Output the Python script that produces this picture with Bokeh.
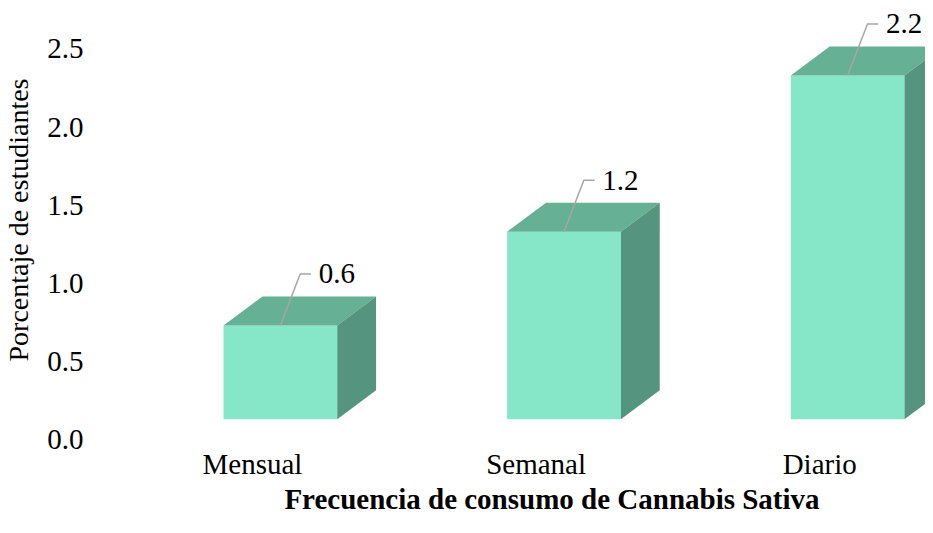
from bokeh.plotting import figure
from bokeh.models import Range1d, ColumnDataSource, FixedTicker, CustomJSTickFormatter
from bokeh.core.properties import value
from bokeh.embed import file_html
from bokeh.resources import INLINE

categories = ["Mensual", "Semanal", "Diario"]
values = [0.6, 1.2, 2.2]
y_ticks = [0.0, 0.5, 1.0, 1.5, 2.0, 2.5]

# style constants (3D look)
BASE = 0.13
LEFT_OFF = -0.102
RIGHT_OFF = 0.299
DX = 0.137
DY = 0.185
FONT = "Liberation Serif"

xs = list(range(len(categories)))

p = figure(width=925, height=517, output_backend="svg", toolbar_location=None,
           x_range=Range1d(-0.2606, 2.373), y_range=Range1d(0, 2.81),
           min_border_top=0, min_border_right=0, min_border_left=10, min_border_bottom=0)
p.outline_line_color = None
p.xgrid.grid_line_color = None
p.ygrid.grid_line_color = None

front = dict(left=[x + LEFT_OFF for x in xs], right=[x + RIGHT_OFF for x in xs],
             bottom=[BASE] * len(xs), top=[BASE + v for v in values])
p.quad(source=ColumnDataSource(front), fill_color="#86E6C8", line_color=None)

top_xs, top_ys, side_xs, side_ys = [], [], [], []
for x, v in zip(xs, values):
    L, R, t, b = x + LEFT_OFF, x + RIGHT_OFF, BASE + v, BASE
    top_xs.append([L, R, R + DX, L + DX])
    top_ys.append([t, t, t + DY, t + DY])
    side_xs.append([R, R + DX, R + DX, R])
    side_ys.append([b, b + DY, t + DY, t])
p.patches(top_xs, top_ys, fill_color="#66B096", line_color=None)
p.patches(side_xs, side_ys, fill_color="#55947E", line_color=None)

# data labels with leader lines
lx, ly, tx, ty, tt = [], [], [], [], []
for x, v in zip(xs, values):
    c = x + (LEFT_OFF + RIGHT_OFF) / 2
    t = BASE + v
    lx.append([c, c + 0.07, c + 0.108])
    ly.append([t, t + 0.33, t + 0.33])
    tx.append(c + 0.135)
    ty.append(t + 0.33)
    tt.append(f"{v:.1f}")
p.multi_line(lx, ly, line_color="#A6A6A6", line_width=1.5)
p.text(x=tx, y=ty, text=tt, text_font=value(FONT), text_font_size="29px",
       text_baseline="middle", text_align="left", text_color="black")

# axes
p.xaxis.ticker = FixedTicker(ticks=xs)
p.xaxis.major_label_overrides = {i: c for i, c in enumerate(categories)}
p.yaxis.ticker = FixedTicker(ticks=y_ticks)
p.yaxis.formatter = CustomJSTickFormatter(code="return tick.toFixed(1);")

for ax in (p.xaxis[0], p.yaxis[0]):
    ax.axis_line_color = None
    ax.major_tick_line_color = None
    ax.minor_tick_line_color = None
    ax.major_label_text_font = FONT
    ax.major_label_text_font_size = "29px"
    ax.major_label_text_color = "black"
    ax.axis_label_text_color = "black"
    ax.axis_label_text_font = FONT

p.yaxis.axis_label = "Porcentaje de estudiantes"
p.yaxis.axis_label_text_font_size = "28px"
p.yaxis.axis_label_text_font_style = "normal"
p.yaxis.major_label_standoff = 89
p.yaxis.axis_label_standoff = 10

p.xaxis.axis_label = "Frecuencia de consumo de Cannabis Sativa"
p.xaxis.axis_label_text_font_size = "29px"
p.xaxis.axis_label_text_font_style = "bold"
p.xaxis.major_label_standoff = 2
p.xaxis.axis_label_standoff = 0

open("out.html", "w").write(file_html(p, INLINE))
